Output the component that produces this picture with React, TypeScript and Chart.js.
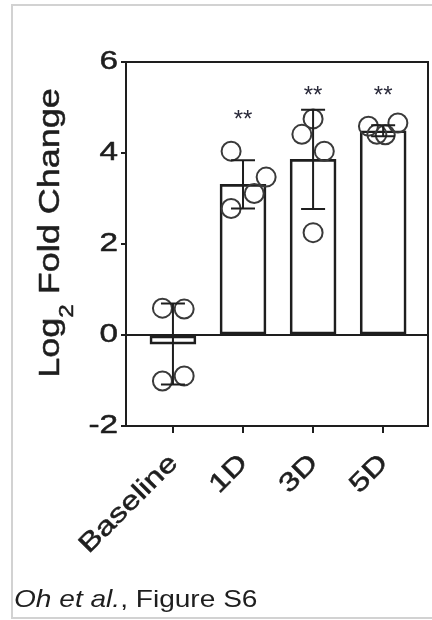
import React, { useEffect, useRef } from 'react';
import { Chart, registerables } from 'chart.js';

Chart.register(...registerables);

// ---- data ----
const categories = ['Baseline', '1D', '3D', '5D'];
const means = [-0.2, 3.31, 3.86, 4.49];
const sds = [0.89, 0.53, 1.09, 0.12];

const baselinePts = [0.59, 0.57, -1.01, -0.9];
const d1Pts = [4.04, 3.47, 3.11, 2.78];
const d3Pts = [4.75, 4.41, 4.04, 2.25];
const d5Pts = [4.59, 4.66, 4.41, 4.4];
const baselineJitter = [-0.15, 0.16, -0.15, 0.16];
const d1Jitter = [-0.17, 0.33, 0.16, -0.17];
const d3Jitter = [0, -0.16, 0.16, 0];
const d5Jitter = [-0.21, 0.21, -0.09, 0.03];

const sigLabels = ['', '**', '**', '**'];
const sigY = [0, 4.81, 5.34, 5.34];

const yMin = -2;
const yMax = 6;
const yStep = 2;
const xMin = -0.67;
const xMax = 3.64;

const yTitleMain = 'Log';
const yTitleSub = '2';
const yTitleRest = ' Fold Change';

const FONT = '"Liberation Sans", Arial, Helvetica, sans-serif';
const INK = '#1e1e1e';
const TICK_FONT = 26;
const TICK_STRETCH = 1.28;
const X_TICK_LEN = 7;
const Y_TICK_LEN = 5;
const TEXT_WEIGHT = 0.5;

const groups = [baselinePts, d1Pts, d3Pts, d5Pts];
const jitters = [baselineJitter, d1Jitter, d3Jitter, d5Jitter];

function heavyText(ctx: CanvasRenderingContext2D, s: string, x: number, y: number) {
  ctx.fillText(s, x, y);
  ctx.strokeText(s, x, y);
}

const decorPlugin = {
  id: 'decor',
  afterDatasetsDraw(chart: any) {
    const { ctx, chartArea: a, scales } = chart;
    const x = scales.x;
    const y = scales.y;
    ctx.save();
    ctx.strokeStyle = INK;
    ctx.lineWidth = 2;
    // frame top & right
    ctx.beginPath();
    ctx.moveTo(a.left, a.top);
    ctx.lineTo(a.right, a.top);
    ctx.lineTo(a.right, a.bottom);
    ctx.stroke();
    // zero line
    const y0 = y.getPixelForValue(0);
    ctx.beginPath();
    ctx.moveTo(a.left, y0);
    ctx.lineTo(a.right, y0);
    ctx.stroke();
    // error bars (mean ± SD)
    means.forEach((m, i) => {
      const cx = x.getPixelForValue(i);
      const t = y.getPixelForValue(m + sds[i]);
      const b = y.getPixelForValue(m - sds[i]);
      const cap = 12;
      ctx.beginPath();
      ctx.moveTo(cx, t);
      ctx.lineTo(cx, b);
      ctx.moveTo(cx - cap, t);
      ctx.lineTo(cx + cap, t);
      ctx.moveTo(cx - cap, b);
      ctx.lineTo(cx + cap, b);
      ctx.stroke();
    });
    // significance stars
    ctx.fillStyle = '#2a2a3a';
    ctx.textAlign = 'center';
    ctx.textBaseline = 'alphabetic';
    const starSize = 24;
    ctx.font = `${starSize}px ${FONT}`;
    sigLabels.forEach((s, i) => {
      if (!s) return;
      const cx = x.getPixelForValue(i);
      const cy = y.getPixelForValue(sigY[i]);
      ctx.fillText(s, cx, cy + starSize * 0.45);
    });
    ctx.restore();
  },
  afterDraw(chart: any) {
    const { ctx, chartArea: a, scales } = chart;
    const x = scales.x;
    const y = scales.y;
    ctx.save();
    ctx.fillStyle = INK;
    ctx.strokeStyle = INK;
    ctx.lineWidth = TEXT_WEIGHT;
    ctx.lineJoin = 'round';
    ctx.font = `${TICK_FONT}px ${FONT}`;

    // y tick labels (positions from the y scale)
    ctx.textAlign = 'right';
    ctx.textBaseline = 'middle';
    y.ticks.forEach((t: any) => {
      const py = y.getPixelForValue(t.value);
      ctx.save();
      ctx.translate(a.left - Y_TICK_LEN - 3, py);
      ctx.scale(TICK_STRETCH, 1);
      heavyText(ctx, String(t.value), 0, 0);
      ctx.restore();
    });

    // x tick labels, rotated 45° (positions from the x scale)
    ctx.textAlign = 'right';
    ctx.textBaseline = 'middle';
    x.ticks.forEach((t: any) => {
      const label = categories[Math.round(t.value)];
      if (!label) return;
      const px = x.getPixelForValue(t.value);
      ctx.save();
      ctx.translate(px + 1, a.bottom + 33);
      ctx.rotate(-Math.PI / 4);
      ctx.scale(TICK_STRETCH, 1);
      heavyText(ctx, label, 0, 0);
      ctx.restore();
    });

    // y-axis title with subscript
    const main = 30;
    const sub = 20;
    const stretch = 1.2;
    ctx.textBaseline = 'alphabetic';
    ctx.textAlign = 'left';
    ctx.font = `${main}px ${FONT}`;
    const w1 = ctx.measureText(yTitleMain).width;
    const w3 = ctx.measureText(yTitleRest).width;
    ctx.font = `${sub}px ${FONT}`;
    const w2 = ctx.measureText(yTitleSub).width;
    const total = (w1 + w2 + w3) * stretch;
    const centerY = 233;
    const baseX = 59;
    ctx.translate(baseX, centerY);
    ctx.rotate(-Math.PI / 2);
    ctx.translate(-total / 2, 0);
    ctx.scale(stretch, 1);
    ctx.font = `${main}px ${FONT}`;
    heavyText(ctx, yTitleMain, 0, 0);
    ctx.font = `${sub}px ${FONT}`;
    heavyText(ctx, yTitleSub, w1, 14);
    ctx.font = `${main}px ${FONT}`;
    heavyText(ctx, yTitleRest, w1 + w2, 0);
    ctx.restore();
  },
};

export default function App() {
  const ref = useRef<HTMLCanvasElement | null>(null);

  useEffect(() => {
    const canvas = ref.current;
    if (!canvas) return;
    const barData = means.map((m, i) => ({ x: i, y: m }));
    const pointData: { x: number; y: number }[] = [];
    groups.forEach((g, i) => {
      g.forEach((v, j) => pointData.push({ x: i + jitters[i][j], y: v }));
    });

    const chart = new Chart(canvas, {
      type: 'bar',
      data: {
        datasets: [
          {
            type: 'scatter',
            data: pointData,
            pointStyle: 'circle',
            pointRadius: 9.5,
            pointHoverRadius: 9.5,
            borderColor: '#3a3a3a',
            backgroundColor: 'rgba(0,0,0,0)',
            borderWidth: 2,
          } as any,
          {
            type: 'bar',
            data: barData,
            barThickness: 46,
            backgroundColor: 'rgba(255,255,255,0)',
            borderColor: INK,
            borderWidth: 2,
            borderSkipped: false,
          } as any,
        ],
      },
      options: {
        responsive: false,
        animation: false,
        events: [],
        layout: { autoPadding: false, padding: { top: 62, right: 4, left: 0, bottom: 0 } },
        plugins: {
          legend: { display: false },
          tooltip: { enabled: false },
          title: { display: false },
        },
        scales: {
          x: {
            type: 'linear',
            min: xMin,
            max: xMax,
            offset: false,
            afterFit: (s: any) => {
              s.height = 194;
              s.paddingLeft = 0;
              s.paddingRight = 0;
            },
            afterBuildTicks: (s: any) => {
              s.ticks = categories.map((_, i) => ({ value: i }));
            },
            ticks: { display: false, autoSkip: false },
            grid: {
              display: true,
              offset: false,
              drawOnChartArea: false,
              drawTicks: true,
              tickLength: X_TICK_LEN,
              color: INK,
              lineWidth: 2,
            },
            border: { display: true, color: INK, width: 2 },
          },
          y: {
            type: 'linear',
            min: yMin,
            max: yMax,
            afterFit: (s: any) => {
              s.width = 126;
            },
            ticks: { display: false, stepSize: yStep },
            grid: {
              display: true,
              drawOnChartArea: false,
              drawTicks: true,
              tickLength: Y_TICK_LEN,
              color: INK,
              lineWidth: 2,
            },
            border: { display: true, color: INK, width: 2 },
          },
        },
      },
      plugins: [decorPlugin],
    });
    return () => chart.destroy();
  }, []);

  return (
    <div
      style={{
        position: 'fixed',
        left: 0,
        top: 0,
        width: 432,
        height: 620,
        background: '#fff',
        overflow: 'hidden',
      }}
    >
      <div
        style={{
          position: 'absolute',
          left: 11,
          top: 4,
          width: 440,
          height: 611,
          border: '2px solid #d2d2d2',
        }}
      />
      <canvas
        ref={ref}
        width={432}
        height={620}
        style={{ position: 'absolute', left: 0, top: 0, width: 432, height: 620 }}
      />
      <div
        style={{
          position: 'absolute',
          left: 14,
          top: 587,
          fontFamily: FONT,
          fontSize: 24,
          lineHeight: '24px',
          color: INK,
          whiteSpace: 'nowrap',
          transform: 'scaleX(1.17)',
          transformOrigin: 'left top',
        }}
      >
        <i>Oh et al.</i>, Figure S6
      </div>
    </div>
  );
}
